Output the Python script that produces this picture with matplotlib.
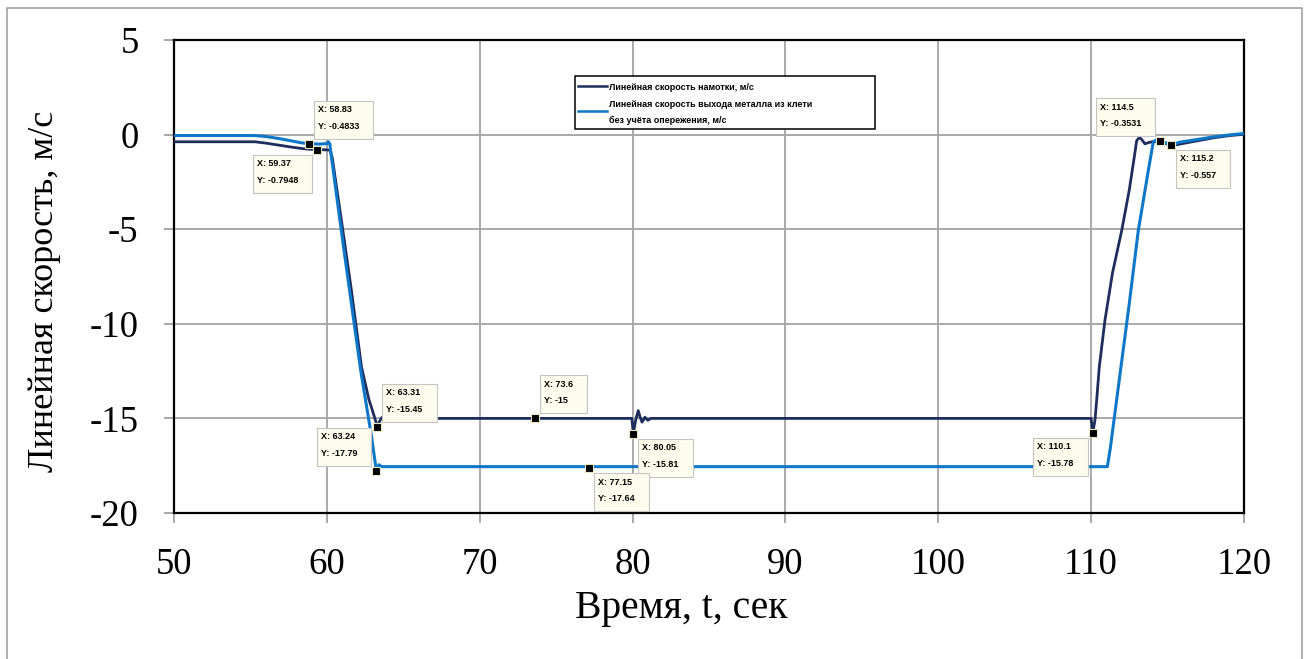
import matplotlib
matplotlib.use("Agg")
import matplotlib.pyplot as plt
from matplotlib import transforms
from matplotlib.patches import Rectangle
from matplotlib.lines import Line2D

plt.rcParams['axes.unicode_minus'] = False

# --- data -------------------------------------------------------------
# winding (coiler) line speed, m/s
t_wind = [50.0, 55.3, 56.0, 56.8, 57.6, 58.4, 59.0, 59.37, 59.8, 60.2, 60.35,
          61.0, 61.6, 62.27, 62.75, 62.95, 63.31, 63.45, 63.6, 64.0, 70.0,
          73.6, 79.95, 80.05, 80.2, 80.37, 80.5, 80.62, 80.81, 81.0, 81.2,
          90.0, 100.0, 110.0, 110.1, 110.25, 110.36, 110.53, 110.9, 111.4,
          112.0, 112.5, 112.8, 112.98, 113.15, 113.3, 113.52, 113.75, 114.0,
          114.5, 114.85, 115.2, 116.0, 117.0, 118.0, 119.0, 120.0]
v_wind = [-0.38, -0.38, -0.45, -0.55, -0.65, -0.74, -0.78, -0.7948, -0.8, -0.82, -1.2,
          -4.8, -8.2, -12.3, -14.0, -14.5, -15.45, -15.15, -14.95, -15.0, -15.0,
          -15.0, -15.0, -15.81, -15.1, -14.59, -14.95, -15.2, -14.94, -15.1, -15.0,
          -15.0, -15.0, -15.0, -15.78, -15.1, -14.06, -12.3, -9.83, -7.3,
          -5.07, -2.9, -1.3, -0.32, -0.15, -0.25, -0.49, -0.42, -0.38,
          -0.3531, -0.45, -0.6, -0.47, -0.32, -0.17, -0.06, 0.02]

# strip exit speed from the stand (without forward slip), m/s
t_exit = [50.0, 55.3, 56.0, 56.8, 57.6, 58.3, 58.83, 59.5, 60.0, 60.1, 60.2,
          60.3, 61.0, 61.6, 62.22, 62.93, 63.24, 63.4, 63.6, 64.0, 70.0, 77.0,
          77.15, 77.3, 90.0, 100.0, 110.9, 111.06, 111.25, 111.85, 112.5,
          113.08, 113.74, 114.05, 114.2, 114.5, 114.85, 115.2, 115.8, 117.0,
          118.0, 119.0, 120.0]
v_exit = [-0.05, -0.05, -0.1, -0.2, -0.32, -0.43, -0.4833, -0.5, -0.48, -0.38, -0.5,
          -1.2, -5.4, -8.9, -12.5, -16.0, -17.79, -17.45, -17.55, -17.55, -17.55, -17.55,
          -17.64, -17.55, -17.55, -17.55, -17.55, -17.55, -16.6, -12.9, -8.9,
          -5.1, -1.9, -0.45, -0.3, -0.3531, -0.42, -0.557, -0.4, -0.25,
          -0.12, -0.02, 0.06]

# data tips
tip_x = [58.83, 59.37, 114.5, 115.2, 63.31, 63.24, 73.6, 80.05, 77.15, 110.1]
tip_y = [-0.4833, -0.7948, -0.3531, -0.557, -15.45, -17.79, -15, -15.81, -17.64, -15.78]

x_ticks = [50, 60, 70, 80, 90, 100, 110, 120]
y_ticks = [5, 0, -5, -10, -15, -20]

legend_labels = ['Линейная скорость намотки, м/с',
                 'Линейная скорость выхода металла из клети\nбез учёта опережения, м/с']
x_label = 'Время, t, сек'
y_label = 'Линейная скорость, м/с'

# --- figure -----------------------------------------------------------
DARK = '#1d2d5c'
LIGHT = '#0d78c8'
SERIF = 'Liberation Serif'
SANS = 'Liberation Sans'

W, H = 1309, 659
fig = plt.figure(figsize=(W / 100, H / 100), dpi=100)
ax = fig.add_axes([174 / W, (H - 513) / H, 1070 / W, 473 / H])
ident = transforms.IdentityTransform()

ax.plot(t_wind, v_wind, color=DARK, lw=2.0, zorder=3)
ax.plot(t_exit, v_exit, color=LIGHT, lw=2.2, zorder=4)
ax.plot(tip_x, tip_y, 's', ms=6, mfc='black', mec='#e6e6bf', mew=0.8, zorder=5)

ax.set_xlim(50, 120)
ax.set_ylim(-20, 5)
ax.set_xticks(x_ticks)
ax.set_yticks(y_ticks)
ax.grid(True, color='#a9a9a9', lw=1.4)
ax.set_axisbelow(True)
ax.tick_params(direction='out', length=7.5, width=1.2, color='#9a9a9a',
               labelsize=26.5)
ax.tick_params(axis='x', pad=17)
ax.tick_params(axis='y', pad=18)
for lab in ax.get_xticklabels() + ax.get_yticklabels():
    lab.set_fontfamily(SERIF)
for s in ax.spines.values():
    s.set_color('black')
    s.set_linewidth(1.6)

ax.set_xlabel(x_label, fontfamily=SERIF, fontsize=28.5)
ax.set_ylabel(y_label, fontfamily=SERIF, fontsize=26)
ax.xaxis.set_label_coords(0.474, -0.163)
ax.yaxis.set_label_coords(-0.106, 0.469)

# outer frame
fig.add_artist(Rectangle((7, -10), 1295, H - 8 + 10, transform=ident,
                         fill=False, ec='#9a9a9a', lw=1.1))

# legend box
fig.add_artist(Rectangle((575, H - 129), 300, 53, transform=ident,
                         fc='white', ec='black', lw=1.1, zorder=6))
fig.add_artist(Line2D([578, 607], [H - 85.7, H - 85.7], transform=ident,
                      color=DARK, lw=1.8, zorder=7))
fig.add_artist(Line2D([578, 607], [H - 111, H - 111], transform=ident,
                      color=LIGHT, lw=1.8, zorder=7))
leg_lines = [legend_labels[0]] + legend_labels[1].split('\n')
for line, yb in zip(leg_lines, [90, 106.6, 122.6]):
    fig.text(609, H - yb, line, transform=ident, fontsize=6.5, weight='bold',
             family=SANS, va='baseline', ha='left', zorder=7)

# data tip boxes
tip_place = [('r', 'a'), ('l', 'b'), ('l', 'a'), ('r', 'b'), ('r', 'a'),
             ('l', 'a'), ('r', 'a'), ('r', 'b'), ('r', 'b'), ('l', 'b')]
fig.canvas.draw()
renderer = fig.canvas.get_renderer()
for x, y, (hs, vs) in zip(tip_x, tip_y, tip_place):
    mx, my = ax.transData.transform((x, y))
    l1 = f'X: {x:.4g}'
    l2 = f'Y: {y:.4g}'
    txts = [fig.text(0, 0, s, transform=ident, fontsize=6.5, weight='bold',
                     family=SANS, va='baseline', ha='left', zorder=9)
            for s in (l1, l2)]
    tw = max(t.get_window_extent(renderer).width for t in txts)
    bw, bh = tw + 18, 38
    bx0 = mx + 5 if hs == 'r' else mx - 5 - bw
    by0 = my + 5 if vs == 'a' else my - 5 - bh
    fig.add_artist(Rectangle((bx0, by0), bw, bh, transform=ident,
                             fc='#fdfdee', ec='#c4c4c4', lw=0.8, zorder=8))
    txts[0].set_position((bx0 + 4, by0 + bh - 11.3))
    txts[1].set_position((bx0 + 4, by0 + bh - 28))

fig.savefig('out.png', dpi=100)
